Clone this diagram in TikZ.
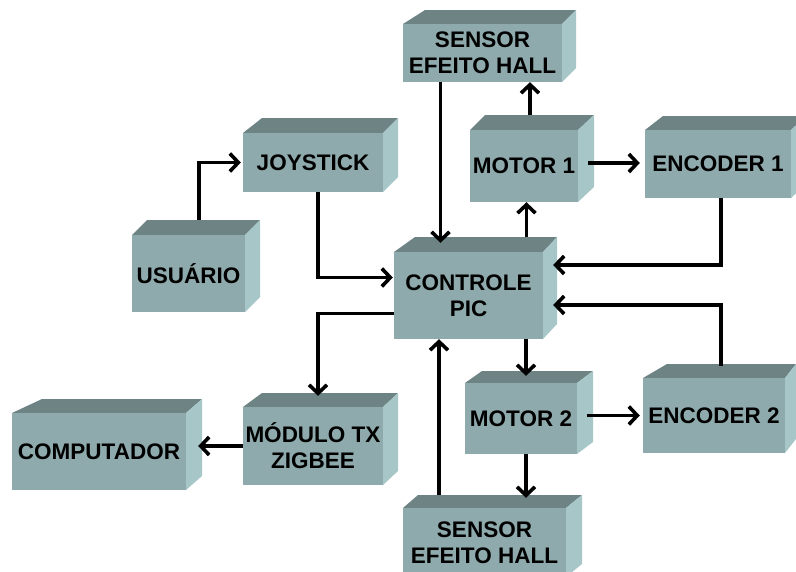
\documentclass[tikz,border=0pt]{standalone}
\usepackage{fontspec}
\setmainfont{Liberation Sans}
\usetikzlibrary{arrows.meta,calc}

\definecolor{cubefront}{RGB}{143,170,172}
\definecolor{cubetop}{RGB}{110,131,132}
\definecolor{cubeside}{RGB}{166,198,200}

% #1 name, #2..#5 front face (x1,y1,x2,y2), #6 left depth, #7 right depth, #8 height of top, #9 label
\newcommand\cubebox[9]{%
  \fill[cubetop] (#2,#3) -- (#2+#6,#3-#8) -- (#4+#7,#3-#8) -- (#4,#3) -- cycle;
  \fill[cubeside] (#4,#3) -- (#4+#7,#3-#8) -- (#4+#7,#5-#8) -- (#4,#5) -- cycle;
  \fill[cubefront] (#2,#3) rectangle (#4,#5);
  \node[boxtext, minimum width={(#4-#2)*1pt}, minimum height={(#5-#3)*1pt}]
    (#1) at ({(#2+#4)/2},{(#3+#5)/2}) {#9};
}

\tikzset{
  boxtext/.style={inner sep=0pt, align=center, text=black,
    font=\bfseries\fontsize{22.5}{26}\selectfont},
  arr/.style={line width=3.6pt, -{Straight Barb[length=8.5pt,width=18pt]}},
  link/.style={line width=3.6pt}
}

\begin{document}
\begin{tikzpicture}[x=1pt, y=-1pt]
\useasboundingbox (0,0) rectangle (796,571);

\cubebox{sens1}{403}{24}{562}{82}{22}{14}{14}{SENSOR\\EFEITO HALL}
\cubebox{mot1}{470}{130}{578}{202}{15}{16}{15}{MOTOR 1}
\cubebox{enc1}{645}{130}{791}{198}{18}{15}{14}{ENCODER 1}
\cubebox{joy}{243}{133}{383}{192}{19}{15}{15}{JOYSTICK}
\cubebox{usu}{132}{235}{245}{312}{15}{15}{15}{USUÁRIO}
\cubebox{ctrl}{394}{252}{543}{339}{21}{14}{15}{CONTROLE\\PIC}
\cubebox{mod}{243}{407}{383}{485}{19}{15}{14}{MÓDULO TX\\ZIGBEE}
\cubebox{comp}{12}{413}{186}{490}{30}{16}{14}{COMPUTADOR}
\cubebox{mot2}{465}{383}{577}{454}{17}{16}{12}{MOTOR 2}
\cubebox{enc2}{643}{378}{785}{453}{24}{11}{14}{ENCODER 2}
\cubebox{sens2}{403}{508}{566}{577}{15}{16}{13}{SENSOR\\EFEITO HALL}

% connector start points
\coordinate (p1) at ($(sens1.south)+(-42,0)$);
\coordinate (p2) at ($(ctrl.north)+(58,-15)$);
\coordinate (p3) at ($(mot1.north)+(6,-15)$);
\coordinate (p4) at ($(enc1.south)+(3,0)$);
\coordinate (p5) at ($(enc2.north)+(7,-12)$);
\coordinate (p6) at ($(ctrl.south)+(57.5,0)$);
\coordinate (p7) at ($(mot2.south)+(5,0)$);
\coordinate (p8) at ($(sens2.north)+(-45.5,-13)$);

% user and joystick
\draw[arr] ($(usu.north)+(10.5,-15)$) |- ($(joy.west)+(-2,0)$);
\draw[arr] ($(joy.south)+(5,0)$) |- ($(ctrl.west)+(-1,-18)$);

% radio link to the computer
\draw[arr] ($(ctrl.west)+(0,18)$) -| ($(mod.north)+(5,-11)$);
\draw[arr] (mod.west) -- ($(mod.west -| comp.east)+(12,0)$);

% hall sensors
\draw[arr] (p1) -- ($(p1 |- ctrl.north)+(0,-9)$);
\draw[arr] (p8) -- (p8 |- ctrl.south);

% motors
\draw[arr] (p2) -- (p2 |- mot1.south);
\draw[arr] (p3) -- (p3 |- sens1.south);
\draw[arr] ($(mot1.east)+(10,-3)$) -- ($(mot1.east -| enc1.west)+(-5,-3)$);
\draw[arr] (p6) -- ($(p6 |- mot2.north)+(0,-7)$);
\draw[arr] (p7) -- ($(p7 |- sens2.north)+(0,-10)$);
\draw[arr] ($(mot2.east)+(10,-3)$) -- ($(mot2.east -| enc2.west)+(-3,-3)$);

% encoder feedback
\draw[arr] (p4) |- ($(ctrl.east)+(10,-30.5)$);
\draw[arr] (p5) |- ($(ctrl.east)+(10,9.5)$);
\end{tikzpicture}
\end{document}
